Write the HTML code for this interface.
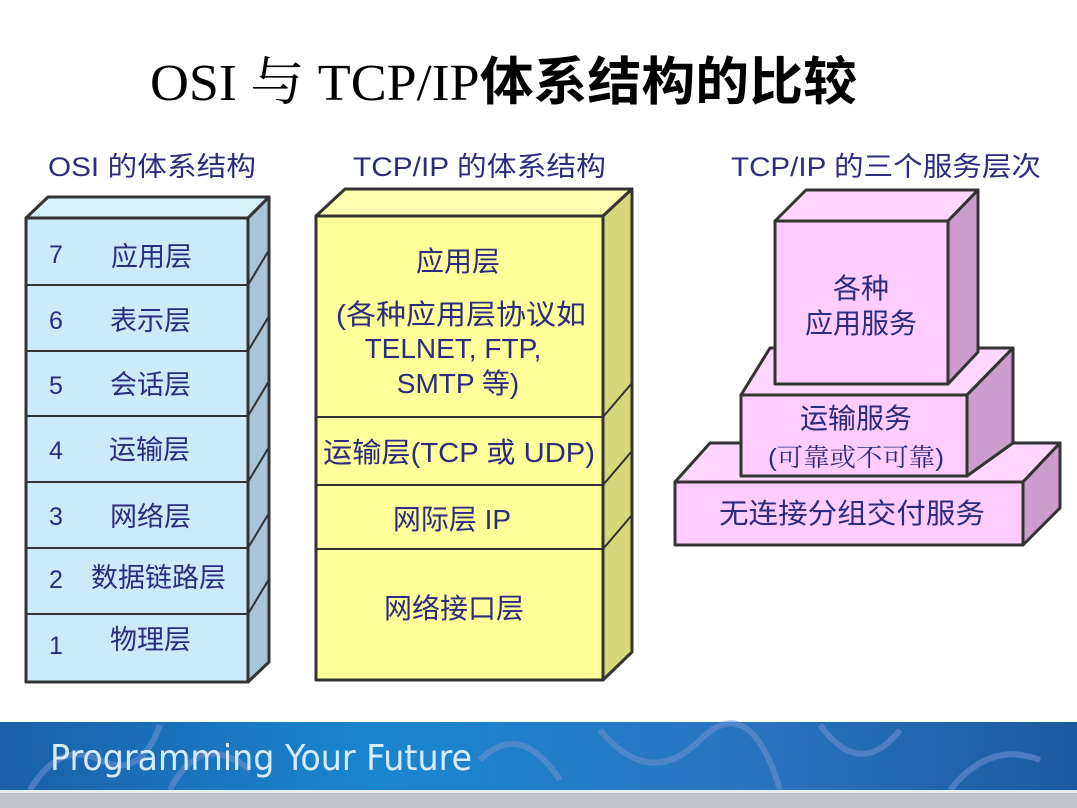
<!DOCTYPE html>
<html><head><meta charset="utf-8"><style>
html,body{margin:0;padding:0;background:#fff;width:1077px;height:808px;overflow:hidden}
svg text{font-family:"Liberation Sans","Noto Sans CJK SC",sans-serif;fill:#2b2b80}
</style></head><body>
<svg width="1077" height="808" viewBox="0 0 1077 808" xmlns="http://www.w3.org/2000/svg">
<defs>
<linearGradient id="bn" x1="0" y1="0" x2="1" y2="0">
<stop offset="0" stop-color="#1b5fa8"/><stop offset="0.35" stop-color="#1a86d0"/><stop offset="0.7" stop-color="#2a73c0"/><stop offset="1" stop-color="#1b5aa0"/>
</linearGradient>
</defs>
<text x="150" y="100" font-size="52" textLength="707" lengthAdjust="spacingAndGlyphs" style="font-family:'Liberation Serif','Noto Serif CJK SC',serif;fill:#000">OSI 与 TCP/IP<tspan style="font-family:'Noto Sans CJK SC',sans-serif;font-weight:bold">体系结构的比较</tspan></text>
<text x="48" y="176" font-size="27" textLength="208" lengthAdjust="spacingAndGlyphs">OSI 的体系结构</text>
<text x="353" y="176" font-size="27" textLength="253" lengthAdjust="spacingAndGlyphs">TCP/IP 的体系结构</text>
<text x="731" y="176" font-size="27" textLength="310" lengthAdjust="spacingAndGlyphs">TCP/IP 的三个服务层次</text>

<g stroke="#333" stroke-width="3" stroke-linejoin="round">
<polygon points="26,218 48,197 269,197 248,218" fill="#d8f0fc"/>
<polygon points="248,218 269,197 269,662 248,682" fill="#a9c4d6"/>
<rect x="26" y="218" width="222" height="464" fill="#cdeafa"/>
<g fill="none" stroke-width="2">
<line x1="26" y1="285" x2="248" y2="285"/><line x1="26" y1="351" x2="248" y2="351"/>
<line x1="26" y1="416" x2="248" y2="416"/><line x1="26" y1="482" x2="248" y2="482"/>
<line x1="26" y1="548" x2="248" y2="548"/><line x1="26" y1="614" x2="248" y2="614"/>
<line x1="248" y1="285" x2="269" y2="250"/><line x1="248" y1="351" x2="269" y2="316"/>
<line x1="248" y1="416" x2="269" y2="381"/><line x1="248" y1="482" x2="269" y2="447"/>
<line x1="248" y1="548" x2="269" y2="513"/><line x1="248" y1="614" x2="269" y2="579"/>
</g>
<polygon points="316,216 345,189 632,189 603,216" fill="#ffffb0"/>
<polygon points="603,216 632,189 632,652 603,680" fill="#d6d67a"/>
<rect x="316" y="216" width="287" height="464" fill="#ffff99"/>
<g fill="none" stroke-width="2">
<line x1="316" y1="417" x2="603" y2="417"/><line x1="316" y1="485" x2="603" y2="485"/>
<line x1="316" y1="549" x2="603" y2="549"/>
<line x1="603" y1="417" x2="632" y2="383"/><line x1="603" y1="485" x2="632" y2="451"/>
<line x1="603" y1="549" x2="632" y2="515"/>
</g>
<polygon points="675,482 710,443 1060,443 1023,482" fill="#ffd6ff"/>
<polygon points="1023,482 1060,443 1060,508 1023,545" fill="#cc9ccc"/>
<rect x="675" y="482" width="348" height="63" fill="#ffccff"/>
<polygon points="741,395 770,348 1013,348 967,395" fill="#ffd6ff"/>
<polygon points="967,395 1013,348 1013,443 967,476" fill="#cc9ccc"/>
<rect x="741" y="395" width="226" height="81" fill="#ffccff"/>
<polygon points="775,221 806,190 978,190 948,221" fill="#ffd6ff"/>
<polygon points="948,221 978,190 978,352 948,384" fill="#cc9ccc"/>
<rect x="775" y="221" width="173" height="163" fill="#ffccff"/>
</g>

<g font-size="27">
<text x="49" y="263" font-size="25">7</text><text x="111" y="266">应用层</text>
<text x="49" y="329" font-size="25">6</text><text x="110" y="330">表示层</text>
<text x="49" y="394" font-size="25">5</text><text x="110" y="394">会话层</text>
<text x="49" y="459" font-size="25">4</text><text x="109" y="459">运输层</text>
<text x="49" y="525" font-size="25">3</text><text x="110" y="526">网络层</text>
<text x="49" y="588" font-size="25">2</text><text x="91" y="587">数据链路层</text>
<text x="49" y="654" font-size="25">1</text><text x="110" y="649">物理层</text>
</g>
<g font-size="28" text-anchor="middle">
<text x="458" y="271">应用层</text>
<text x="461" y="324" textLength="250" lengthAdjust="spacingAndGlyphs">(各种应用层协议如</text>
<text x="453" y="358">TELNET, FTP,</text>
<text x="458" y="393">SMTP 等)</text>
<text x="459" y="462" textLength="272" lengthAdjust="spacingAndGlyphs">运输层(TCP 或 UDP)</text>
<text x="452" y="529">网际层 IP</text>
<text x="454" y="618">网络接口层</text>
<text x="861" y="298">各种</text>
<text x="861" y="333">应用服务</text>
<text x="856" y="428">运输服务</text>
<text x="856" y="466" font-size="25" textLength="176" lengthAdjust="spacingAndGlyphs" style="font-family:'Liberation Sans','Noto Serif CJK SC',serif">(可靠或不可靠)</text>
<text x="852" y="523" textLength="266" lengthAdjust="spacingAndGlyphs">无连接分组交付服务</text>
</g>

<rect x="0" y="722" width="1077" height="68" fill="url(#bn)"/>
<g stroke="#6a8fd0" stroke-width="6" fill="none" opacity="0.6">
<path d="M30 790 Q60 740 100 760 T160 725"/><path d="M170 790 Q200 730 250 770"/>
<path d="M600 730 Q650 790 700 740 T780 790"/><path d="M820 725 Q860 780 900 730"/>
<path d="M950 790 Q990 740 1040 760"/><path d="M480 760 Q520 720 560 780"/>
</g>
<text x="50" y="770" font-size="36" textLength="422" lengthAdjust="spacingAndGlyphs" style="fill:#d8ecff;font-family:'DejaVu Sans Condensed','Liberation Sans Narrow','Liberation Sans',sans-serif">Programming Your Future</text>
<rect x="0" y="790" width="1077" height="18" fill="#c0c4c8"/>
<rect x="0" y="790" width="1077" height="3" fill="#e6eef4"/>
</svg>
</body></html>
